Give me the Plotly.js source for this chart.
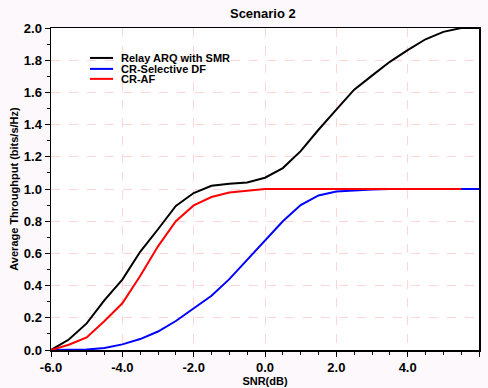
<!DOCTYPE html>
<html><head><meta charset="utf-8">
<script src="https://cdn.plot.ly/plotly-3.0.1.min.js"></script>
<style>html,body{margin:0;padding:0;background:#fcf8fc;}</style>
</head><body>
<div id="chart" style="width:488px;height:388px;"></div>
<script>
const snr = [-6,-5.5,-5,-4.5,-4,-3.5,-3,-2.5,-2,-1.5,-1,-0.5,0,0.5,1,1.5,2,2.5,3,3.5,4,4.5,5,5.5,6];
const relayARQ = [0,0.065,0.165,0.31,0.437,0.61,0.75,0.895,0.975,1.02,1.033,1.041,1.07,1.13,1.235,1.368,1.493,1.617,1.704,1.79,1.862,1.93,1.976,2.0,2.0];
const selectiveDF = [0,0,0.003,0.012,0.035,0.068,0.115,0.18,0.26,0.337,0.44,0.56,0.685,0.80,0.90,0.96,0.985,0.993,0.997,1.0,1.0,1.0,1.0,1.0,1.0];
const snrAF = [-6,-5.5,-5,-4.5,-4,-3.5,-3,-2.5,-2,-1.5,-1,-0.5,0,0.5,1,1.5,2,2.5,3,3.5,4,4.5,5,5.5];
const crAF = [0,0.033,0.078,0.18,0.29,0.46,0.644,0.80,0.898,0.95,0.978,0.99,1.0,1.0,1.0,1.0,1.0,1.0,1.0,1.0,1.0,1.0,1.0,1.0];
const names = ['Relay ARQ with SMR','CR-Selective DF','CR-AF'];
const colors = ['#000000','#0000ff','#ff0000'];
const xTicks = [-6,-4,-2,0,2,4,6];
const xTickText = ['-6.0','-4.0','-2.0','0.0','2.0','4.0','6.0'];
const yTicks = [0,0.2,0.4,0.6,0.8,1.0,1.2,1.4,1.6,1.8,2.0];
const yTickText = ['0.0','0.2','0.4','0.6','0.8','1.0','1.2','1.4','1.6','1.8','2.0'];

const F = 'Liberation Sans, Arial, sans-serif';
const traces = [
  {x: snr, y: relayARQ, name: names[0], mode:'lines', line:{color:colors[0], width:2}},
  {x: snr, y: selectiveDF, name: names[1], mode:'lines', line:{color:colors[1], width:2}},
  {x: snrAF, y: crAF, name: names[2], mode:'lines', line:{color:colors[2], width:2}}
];
const legY = [0.907, 0.873, 0.842];
const shapes = [], annotations = [];
names.forEach((n,i)=>{
  shapes.push({type:'line', xref:'paper', yref:'paper', x0:0.091, x1:0.145, y0:legY[i], y1:legY[i], line:{color:colors[i], width:2}});
  annotations.push({xref:'paper', yref:'paper', x:0.159, y:legY[i], xanchor:'left', yanchor:'middle', text:'<b>'+n+'</b>', showarrow:false, font:{family:F, size:11, color:'#000'}});
});
const layout = {
  width:488, height:388,
  paper_bgcolor:'#fcf8fc', plot_bgcolor:'#ffffff',
  margin:{l:51, r:9, t:28, b:38},
  showlegend:false,
  title:{text:'<b>Scenario 2</b>', xref:'paper', x:0.495, xanchor:'center', yref:'container', y:0.965, yanchor:'middle', font:{family:F, size:13, color:'#000'}},
  xaxis:{range:[-6,6], tickvals:xTicks, ticktext:xTickText, ticks:'outside', ticklen:5, tickwidth:1, tickcolor:'#000',
    minor:{dtick:0.5, ticks:'outside', ticklen:3, tickcolor:'#000', showgrid:false},
    showline:true, linecolor:'#000', linewidth:1.5, mirror:true,
    showgrid:true, gridcolor:'#ffd6d6', griddash:'dash', gridwidth:1, zeroline:false,
    tickfont:{family:F, size:13, color:'#000', weight:'bold'},
    title:{text:'<b>SNR(dB)</b>', font:{family:F, size:11, color:'#000'}, standoff:3}},
  yaxis:{range:[0,2], tickvals:yTicks, ticktext:yTickText, ticks:'outside', ticklen:5, tickwidth:1, tickcolor:'#000',
    minor:{dtick:0.1, ticks:'outside', ticklen:3, tickcolor:'#000', showgrid:false},
    showline:true, linecolor:'#000', linewidth:1.5, mirror:true,
    showgrid:true, gridcolor:'#ffd6d6', griddash:'dash', gridwidth:1, zeroline:false,
    tickfont:{family:F, size:13, color:'#000', weight:'bold'},
    title:{text:'<b>Average Throughput (bits/s/Hz)</b>', font:{family:F, size:11, color:'#000'}, standoff:3}},
  shapes: shapes, annotations: annotations
};
Plotly.newPlot('chart', traces, layout, {displayModeBar:false, staticPlot:true});
</script>
</body></html>
